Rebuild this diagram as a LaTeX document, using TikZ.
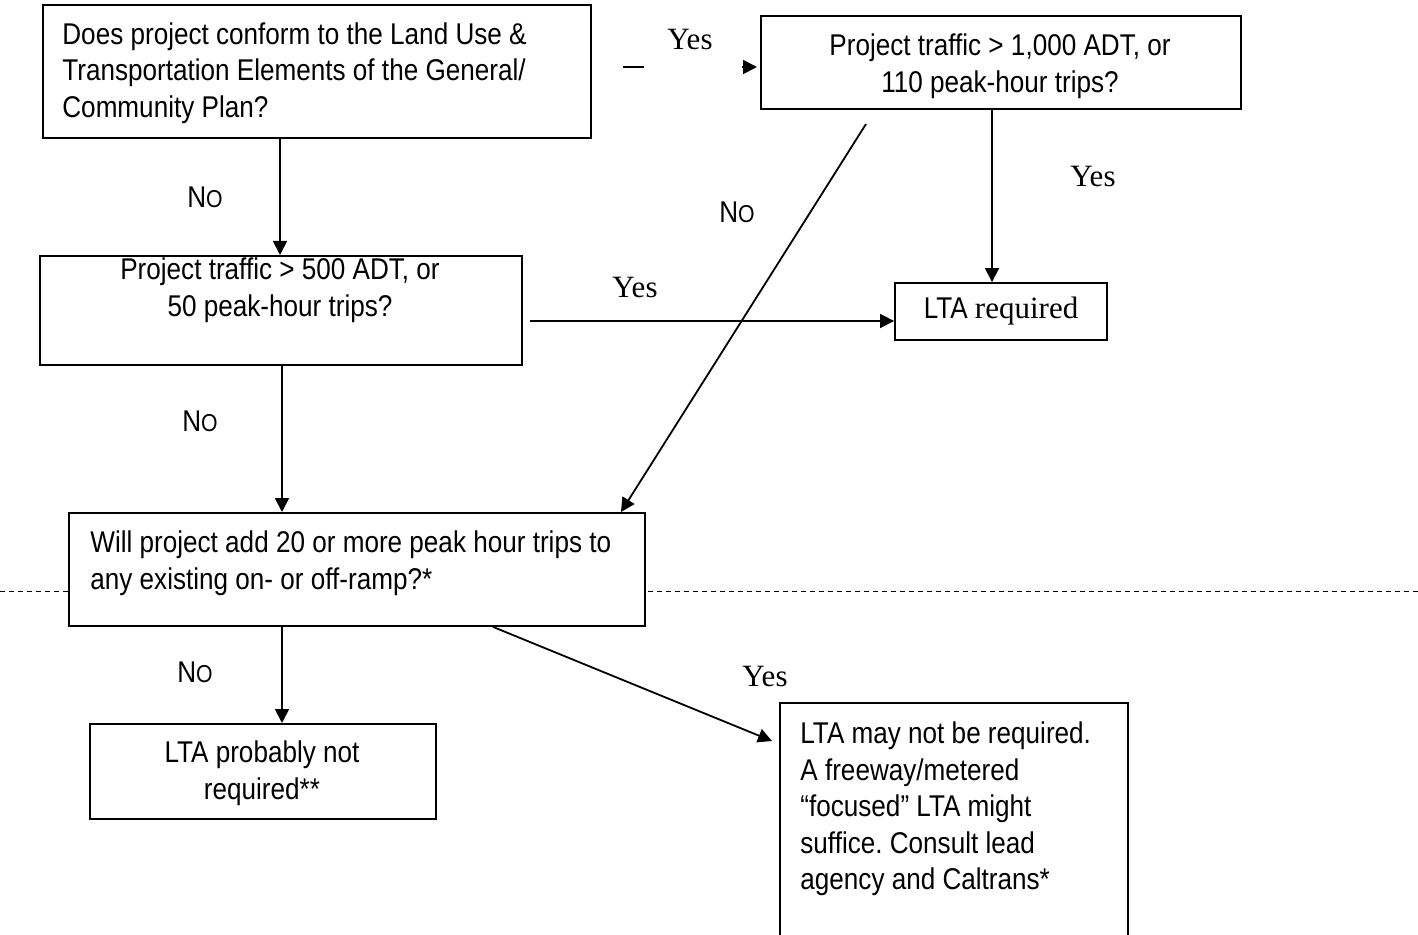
\documentclass[tikz,border=0pt]{standalone}
\usepackage{fontspec}
\setmainfont{Liberation Sans}[FakeStretch=0.87]
\newfontfamily\tnr{Liberation Serif}
\usetikzlibrary{arrows.meta}
\newcommand\nO{N{\fontsize{12.2pt}{12pt}\selectfont O}}
\frenchspacing
\begin{document}
\begin{tikzpicture}[x=0.5pt,y=-0.5pt,
  box/.style={draw, line width=0.95pt, fill=white, rectangle, inner sep=0pt, anchor=north west},
  txt/.style={inner sep=0pt, font=\fontsize{15pt}{18.3pt}\selectfont},
  yes/.style={inner sep=0pt, font=\tnr\fontsize{15.5pt}{18pt}\selectfont},
  no/.style={inner sep=0pt, font=\fontsize{15pt}{18pt}\selectfont},
  arr/.style={line width=0.9pt, -{Triangle[length=7pt,width=7pt]}},
  ln/.style={line width=0.9pt}]
\clip (0,0) rectangle (1418,935);
% dashed divider
\coordinate (dl) at (0,591);
\coordinate (dr) at (1418,591);
\draw[line width=0.5pt, dash pattern=on 2.5pt off 2pt] (dl) -- (dr);

% boxes
\node[box, minimum width=274pt, minimum height=66.5pt] (b1) at (42,4) {};
\node[box, minimum width=240pt, minimum height=46.5pt] (b2) at (760,15) {};
\node[box, minimum width=241pt, minimum height=54.5pt] (b3) at (39,255) {};
\node[box, anchor=center, minimum width=106pt, minimum height=28.5pt, font=\fontsize{15pt}{18pt}\selectfont] (lta) at (1001,311.5) {LTA {\tnr\fontsize{15.5pt}{18pt}\selectfont required}};
\node[box, minimum width=288pt, minimum height=56.5pt] (b4) at (68,512) {};
\node[box, minimum width=173pt, minimum height=47.5pt] (b5) at (89,723) {};
\node[box, minimum width=174pt, minimum height=160pt] (b6) at (779,702) {};

% box texts
\node[txt, anchor=west, align=left] (t1) at (62,73) {Does project conform to the Land Use \&\\Transportation Elements of the General/\\Community Plan?};
\node[txt, align=center] (t2) at (1000,66.5) {Project traffic > 1,000 ADT, or\\110 peak-hour trips?};
\node[txt, align=center] (t3) at (280,290.5) {Project traffic > 500 ADT, or\\50 peak-hour trips?};
\node[txt, anchor=west, align=left] (t4) at (90,563.5) {Will project add 20 or more peak hour trips to\\any existing on- or off-ramp?*};
\node[txt, align=center] (t5) at (262,773.5) {LTA probably not\\required**};
\node[txt, anchor=west, align=left] (t6) at (800,809) {LTA may not be required.\\A freeway/metered\\“focused” LTA might\\suffice. Consult lead\\agency and Caltrans*};

% helper coordinates
\coordinate (xa) at (280,0);
\coordinate (xb) at (992,0);
\coordinate (xc) at (282,0);
\coordinate (xd) at (621,0);
\coordinate (xe) at (493,0);
\coordinate (s1) at (866,124);
\coordinate (s2) at (530,321);
\coordinate (e3) at (772,741);
\coordinate (s4) at (623,67);
\coordinate (s5) at (742,67);

% connectors
\draw[ln] (s4) -- ++(21,0);
\draw[arr] (s5) -- ([xshift=-1.5pt]s5 -| b2.west);
\draw[arr] (b1.south -| xa) -- (b3.north -| xa);
\draw[arr] (b2.south -| xb) -- (lta.north -| xb);
\draw[arr] (s1) -- (b4.north -| xd);
\draw[arr] (s2) -- (s2 -| lta.west);
\draw[arr] (b3.south -| xc) -- (b4.north -| xc);
\draw[arr] (b4.south -| xc) -- (b5.north -| xc);
\draw[arr] (b4.south -| xe) -- (e3);

% labels
\node[yes] (y1) at (690,40) {Yes};
\node[yes] (y2) at (1093,177) {Yes};
\node[yes] (y3) at (635,288) {Yes};
\node[yes] (y4) at (765,676) {Yes};
\node[no] (n1) at (205,197) {\nO};
\node[no] (n2) at (737,212) {\nO};
\node[no] (n3) at (200,421) {\nO};
\node[no] (n4) at (195,672) {\nO};
\end{tikzpicture}
\end{document}
